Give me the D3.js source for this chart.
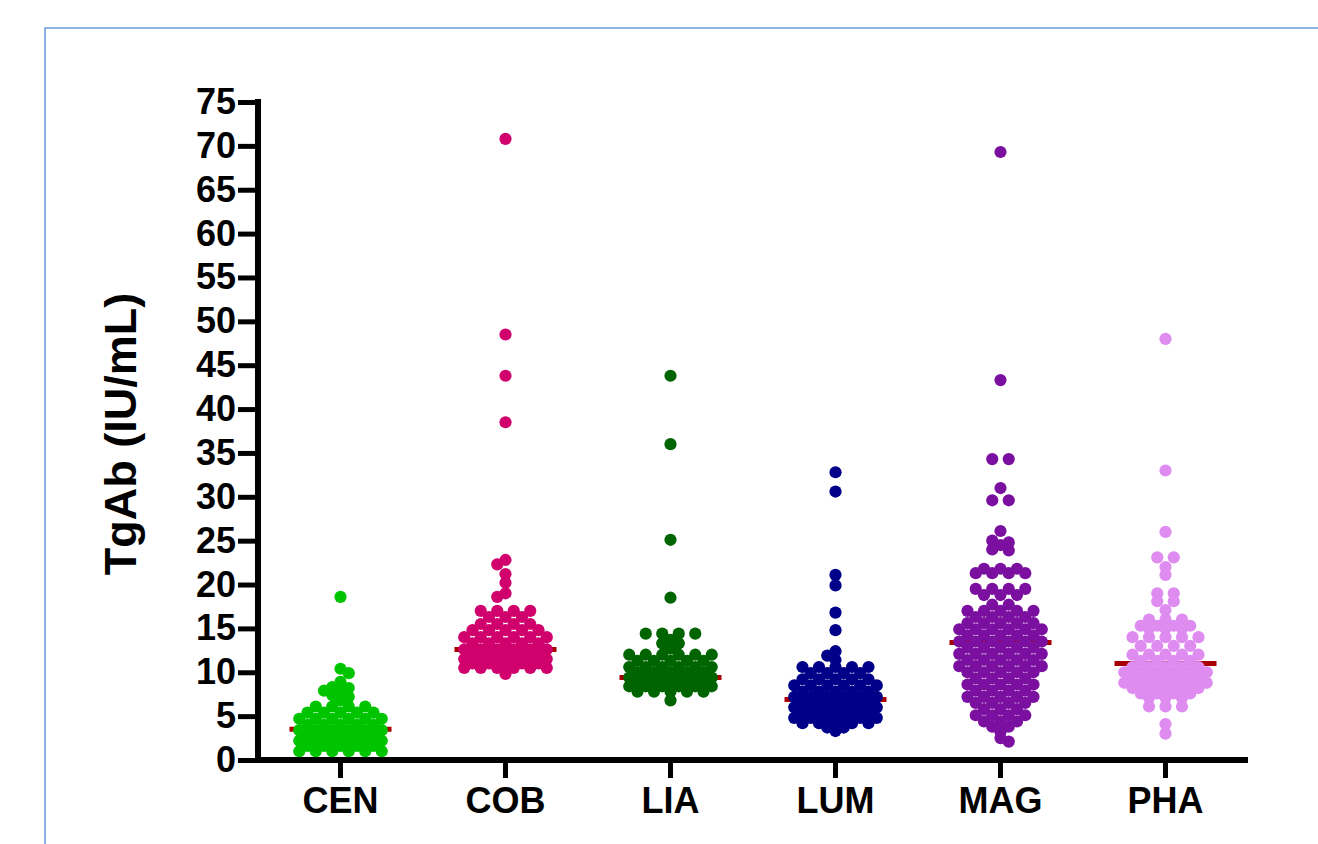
<!DOCTYPE html>
<html>
<head>
<meta charset="utf-8">
<script src="https://cdn.jsdelivr.net/npm/d3@7"></script>
<style>
  body { margin: 0; background: #fff; }
  svg text { font-family: "Liberation Sans", Arial, sans-serif; font-weight: bold; fill: #000; }
</style>
</head>
<body>
<svg id="chart" width="1318" height="844"></svg>
<script>
// groups and values
var groups = ['CEN', 'COB', 'LIA', 'LUM', 'MAG', 'PHA'];
var medians = [3.5, 12.6, 9.4, 6.9, 13.4, 11.0];
var yTicks = [0, 5, 10, 15, 20, 25, 30, 35, 40, 45, 50, 55, 60, 65, 70, 75];

var cenValues = [
	18.6, 10.4, 9.9, 8.9, 8.3, 8.2, 7.9, 7.7, 7.4, 7.2, 6.8,
	6.1, 6.1, 6.1, 6.1,
	5.4, 5.4, 5.4, 5.4, 5.4,
	4.7, 4.7, 4.7, 4.7, 4.7, 4.7,
	4.0, 4.0, 4.0, 4.0, 4.0,
	3.4, 3.4, 3.4, 3.4, 3.4, 3.4,
	2.8, 2.8, 2.8, 2.8, 2.8,
	2.2, 2.2, 2.2, 2.2, 2.2, 2.2,
	1.6, 1.6, 1.6, 1.6, 1.6,
	1.0, 1.0, 1.0, 1.0, 1.0, 1.0
];
var cobValues = [
	70.8, 48.5, 43.8, 38.5, 22.8, 22.3, 21.2, 20.2, 19.0, 18.6,
	17.0, 17.0, 17.0, 17.0,
	16.3, 16.3, 16.3,
	15.5, 15.5, 15.5, 15.5,
	14.8, 14.8, 14.8, 14.8, 14.8,
	14.0, 14.0, 14.0, 14.0, 14.0, 14.0,
	13.3, 13.3, 13.3, 13.3, 13.3,
	12.6, 12.6, 12.6, 12.6, 12.6, 12.6,
	12.0, 12.0, 12.0, 12.0, 12.0,
	11.5, 11.5, 11.5, 11.5, 11.5, 11.5,
	11.0, 11.0, 11.0, 11.0, 11.0,
	10.5, 10.5, 10.5, 10.5, 10.5, 10.5,
	9.8
];
var liaValues = [
	43.8, 36.0, 25.1, 18.5,
	14.4, 14.4, 14.4, 14.4,
	13.7, 13.3, 13.3,
	12.7,
	12.0, 12.0, 12.0, 12.0, 12.0, 12.0,
	11.3, 11.3, 11.3, 11.3, 11.3,
	10.6, 10.6, 10.6, 10.6, 10.6, 10.6,
	10.0, 10.0, 10.0, 10.0, 10.0,
	9.4, 9.4, 9.4, 9.4, 9.4, 9.4,
	8.9, 8.9, 8.9, 8.9, 8.9,
	8.4, 8.4, 8.4, 8.4, 8.4, 8.4,
	7.8, 7.8, 7.8, 7.8, 7.8,
	6.8
];
var lumValues = [
	32.8, 30.6, 21.1, 19.9, 16.8, 14.8, 12.4, 11.9, 11.4,
	10.6, 10.6, 10.6, 10.6, 10.6,
	9.9, 9.9, 9.9, 9.9,
	9.2, 9.2, 9.2, 9.2, 9.2,
	8.5, 8.5, 8.5, 8.5, 8.5, 8.5,
	7.8, 7.8, 7.8, 7.8, 7.8,
	7.2, 7.2, 7.2, 7.2, 7.2, 7.2,
	6.6, 6.6, 6.6, 6.6, 6.6,
	6.0, 6.0, 6.0, 6.0, 6.0, 6.0,
	5.4, 5.4, 5.4, 5.4, 5.4,
	4.8, 4.8, 4.8, 4.8, 4.8, 4.8,
	4.2, 4.2, 4.2, 4.2, 4.2,
	3.7, 3.7,
	3.3
];
var magValues = [
	69.3, 43.3, 34.3, 34.3, 31.0, 29.6, 29.6, 26.1, 25.0, 24.8, 24.5, 24.0, 23.9,
	21.8, 21.8, 21.8,
	21.3, 21.3, 21.3, 21.3,
	19.5, 19.5, 19.5, 19.5,
	18.8, 18.8, 18.8,
	17.7, 17.7,
	17.0, 17.0, 17.0, 17.0, 17.0,
	16.3, 16.3, 16.3, 16.3,
	15.6, 15.6, 15.6, 15.6, 15.6,
	14.9, 14.9, 14.9, 14.9, 14.9, 14.9,
	14.2, 14.2, 14.2, 14.2, 14.2,
	13.5, 13.5, 13.5, 13.5, 13.5, 13.5,
	12.8, 12.8, 12.8, 12.8, 12.8,
	12.1, 12.1, 12.1, 12.1, 12.1, 12.1,
	11.4, 11.4, 11.4, 11.4, 11.4,
	10.7, 10.7, 10.7, 10.7, 10.7, 10.7,
	10.0, 10.0, 10.0, 10.0, 10.0,
	9.3, 9.3, 9.3, 9.3,
	8.6, 8.6, 8.6, 8.6, 8.6,
	7.9, 7.9, 7.9, 7.9,
	7.2, 7.2, 7.2, 7.2, 7.2,
	6.5, 6.5, 6.5, 6.5,
	5.8, 5.8, 5.8,
	5.1, 5.1, 5.1, 5.1,
	4.4, 4.4, 4.4,
	3.8, 3.8,
	3.2, 2.5, 2.1
];
var phaValues = [
	48.0, 33.0, 26.0, 23.1, 23.1, 22.0, 21.1, 19.0, 19.0, 18.1, 18.1, 17.1,
	16.0, 16.0, 16.0,
	15.3, 15.3, 15.3, 15.3,
	15.0, 15.0, 15.0,
	14.0, 14.0, 14.0, 14.0, 14.0,
	13.0, 13.0, 13.0, 13.0,
	12.0, 12.0, 12.0, 12.0, 12.0,
	11.3, 11.3, 11.3, 11.3,
	10.6, 10.6, 10.6, 10.6, 10.6,
	10.0, 10.0, 10.0, 10.0, 10.0, 10.0,
	9.4, 9.4, 9.4, 9.4, 9.4,
	8.8, 8.8, 8.8, 8.8, 8.8, 8.8,
	8.2, 8.2, 8.2, 8.2, 8.2,
	7.6, 7.6, 7.6, 7.6,
	7.1, 7.1, 7.1,
	6.1, 6.1, 6.1,
	4.1, 3.0
];
var groupValues = [cenValues, cobValues, liaValues, lumValues, magValues, phaValues];

var colors = ['#00c400', '#d0006c', '#006400', '#000088', '#7b10a0', '#de8cf0'];

var svg = d3.select('#chart');
var margin = { left: 258, right: 1248, top: 102, bottom: 760 };

// frame of the figure panel
svg.append('rect')
	.attr('x', 45).attr('y', 28)
	.attr('width', 1400).attr('height', 1000)
	.attr('fill', 'none')
	.attr('stroke', '#73a2e2')
	.attr('stroke-width', 1.6);

var x = d3.scaleBand()
	.domain(groups)
	.range([margin.left, margin.right]);

var y = d3.scaleLinear()
	.domain([0, 75])
	.range([margin.bottom, margin.top]);

// y axis
var yAxis = d3.axisLeft(y)
	.tickValues(yTicks)
	.tickSize(20)
	.tickSizeOuter(0)
	.tickPadding(2);

var gy = svg.append('g')
	.attr('transform', 'translate(' + margin.left + ',0)')
	.call(yAxis);
gy.select('.domain').remove();
gy.selectAll('.tick line').attr('stroke', '#000').attr('stroke-width', 5);
gy.selectAll('.tick text').style('font-size', '36px');
gy.append('line')
	.attr('x1', 0).attr('x2', 0)
	.attr('y1', y(75) - 3).attr('y2', y(0) + 3)
	.attr('stroke', '#000').attr('stroke-width', 6);

// x axis
var xAxis = d3.axisBottom(x)
	.tickSize(18)
	.tickSizeOuter(0)
	.tickPadding(9);

var gx = svg.append('g')
	.attr('transform', 'translate(0,' + margin.bottom + ')')
	.call(xAxis);
gx.select('.domain').remove();
gx.selectAll('.tick line').attr('stroke', '#000').attr('stroke-width', 5);
gx.selectAll('.tick text').style('font-size', '36px');
gx.append('line')
	.attr('x1', margin.left - 3).attr('x2', margin.right)
	.attr('y1', 0).attr('y2', 0)
	.attr('stroke', '#000').attr('stroke-width', 6);

// y title
svg.append('text')
	.attr('transform', 'translate(136,434) rotate(-90)')
	.attr('text-anchor', 'middle')
	.style('font-size', '45px')
	.text('TgAb (IU/mL)');

// prism-like scatter: near values share a row, rows spread evenly and
// slide half a slot when they would sit on top of a row above
var r = 6.1, spacing = 16.5, rowGap = 2.0, minD = 6.0;
var shiftsA = [0, 8.25, -8.25, 16.5, -16.5, 24.75, -24.75];
var shiftsB = [0, -8.25, 8.25, -16.5, 16.5, -24.75, 24.75];

function layout(values) {
	var pts = values.map(function (v) { return { v: v, y: y(v) }; })
		.sort(function (a, b) { return a.y - b.y; });
	var rows = [], cur = null;
	pts.forEach(function (p) {
		if (!cur || p.y - cur[0].y >= rowGap) { cur = [p]; rows.push(cur); }
		else cur.push(p);
	});
	var placed = [];
	rows.forEach(function (row, ri) {
		var n = row.length;
		var base = row.map(function (p, j) { return (j - (n - 1) / 2) * spacing; });
		var shifts = ri % 2 ? shiftsB : shiftsA;
		var best = 0, bestD = -1;
		for (var s = 0; s < shifts.length; s++) {
			var d = Infinity;
			row.forEach(function (p, j) {
				var px = base[j] + shifts[s];
				placed.forEach(function (q) {
					var dy = q.y - p.y;
					if (Math.abs(dy) < 20) d = Math.min(d, Math.sqrt((q.dx - px) * (q.dx - px) + dy * dy));
				});
			});
			if (d >= minD) { best = shifts[s]; break; }
			if (d > bestD) { bestD = d; best = shifts[s]; }
		}
		row.forEach(function (p, j) { p.dx = base[j] + best; placed.push(p); });
	});
	return placed;
}

var cols = svg.append('g').selectAll('g')
	.data(groups)
	.enter().append('g')
	.attr('transform', function (d) { return 'translate(' + (x(d) + x.bandwidth() / 2) + ',0)'; });

// median lines behind the dots
cols.append('line')
	.attr('x1', -51).attr('x2', 51)
	.attr('y1', function (d, i) { return y(medians[i]); })
	.attr('y2', function (d, i) { return y(medians[i]); })
	.attr('stroke', '#a80000')
	.attr('stroke-width', 5);

cols.each(function (d, i) {
	d3.select(this).selectAll('circle')
		.data(layout(groupValues[i]))
		.enter().append('circle')
		.attr('cx', function (p) { return p.dx; })
		.attr('cy', function (p) { return p.y; })
		.attr('r', r)
		.attr('fill', colors[i]);
});
</script>
</body>
</html>
